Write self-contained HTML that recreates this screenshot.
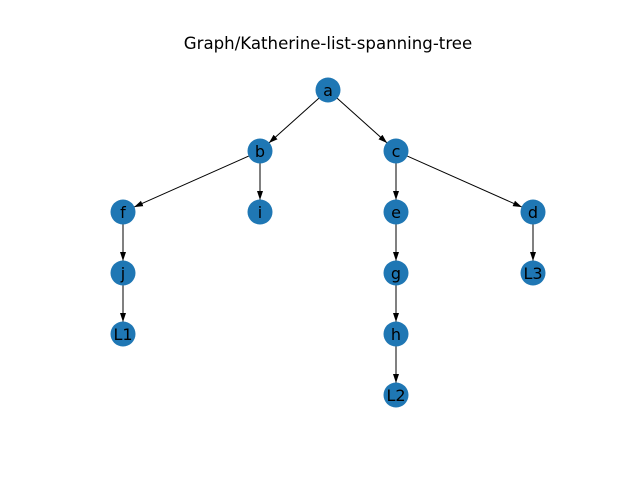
<!DOCTYPE html>
<html><head><meta charset="utf-8"><style>
html,body{margin:0;padding:0;background:#fff;}
svg{display:block;}
text{font-family:"DejaVu Sans","Liberation Sans",sans-serif;}
</style></head><body>
<svg width="640" height="480" viewBox="0 0 640 480" xmlns="http://www.w3.org/2000/svg">
<defs>
<marker id="ar" markerWidth="10" markerHeight="8" refX="9" refY="4" orient="auto" markerUnits="userSpaceOnUse">
<path d="M0,1 L9,4 L0,7 Z" fill="#000"/>
</marker>
</defs>
<rect width="640" height="480" fill="#fff"/>
<text x="328" y="49" font-size="16.6" text-anchor="middle" fill="#000">Graph/Katherine-list-spanning-tree</text>
<g stroke="#000" stroke-width="1" marker-end="url(#ar)">
<line x1="319.1" y1="98" x2="268.9" y2="143"/>
<line x1="336.9" y1="98" x2="387.1" y2="143"/>
<line x1="249" y1="155.9" x2="134" y2="207.1"/>
<line x1="260" y1="163" x2="260" y2="200"/>
<line x1="396" y1="163" x2="396" y2="200"/>
<line x1="407" y1="155.9" x2="522" y2="207.1"/>
<line x1="123" y1="224" x2="123" y2="261"/>
<line x1="123" y1="285" x2="123" y2="322"/>
<line x1="396" y1="224" x2="396" y2="261"/>
<line x1="396" y1="285" x2="396" y2="322"/>
<line x1="396" y1="346" x2="396" y2="383"/>
<line x1="533" y1="224" x2="533" y2="261"/>
</g>
<g fill="#1f77b4">
<circle cx="328" cy="90" r="12.5"/>
<circle cx="260" cy="151" r="12.5"/>
<circle cx="396" cy="151" r="12.5"/>
<circle cx="123" cy="212" r="12.5"/>
<circle cx="260" cy="212" r="12.5"/>
<circle cx="396" cy="212" r="12.5"/>
<circle cx="533" cy="212" r="12.5"/>
<circle cx="123" cy="273" r="12.5"/>
<circle cx="396" cy="273" r="12.5"/>
<circle cx="533" cy="273" r="12.5"/>
<circle cx="123" cy="334" r="12.5"/>
<circle cx="396" cy="334" r="12.5"/>
<circle cx="396" cy="395" r="12.5"/>
</g>
<g font-size="16" text-anchor="middle" fill="#000">
<text x="328" y="96">a</text>
<text x="260" y="157">b</text>
<text x="396" y="157">c</text>
<text x="123" y="218">f</text>
<text x="260" y="218">i</text>
<text x="396" y="218">e</text>
<text x="533" y="218">d</text>
<text x="123" y="279">j</text>
<text x="396" y="279">g</text>
<text x="533" y="279">L3</text>
<text x="123" y="340">L1</text>
<text x="396" y="340">h</text>
<text x="396" y="401">L2</text>
</g>
</svg>
</body></html>
